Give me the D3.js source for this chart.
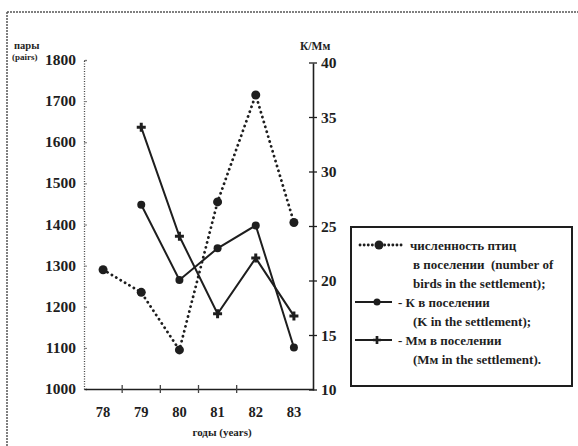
<!DOCTYPE html>
<html><head><meta charset="utf-8">
<script src="https://cdn.jsdelivr.net/npm/d3@7"></script>
<style>body{margin:0;background:#fff}svg{display:block}</style>
</head><body>
<script>
const years = [78, 79, 80, 81, 82, 83];
const birds = [1290, 1235, 1095, 1455, 1715, 1405];
const kYears = [79, 80, 81, 82, 83];
const kValues = [27.0, 20.1, 23.0, 25.1, 13.9];
const mmYears = [79, 80, 81, 82, 83];
const mmValues = [34.1, 24.1, 17.0, 22.1, 16.8];
const leftTicks = [1000, 1100, 1200, 1300, 1400, 1500, 1600, 1700, 1800];
const rightTicks = [10, 15, 20, 25, 30, 35, 40];
const xTicks = [78.5, 79.5, 80.5, 81.5];
const legendLines = [
  ["численность птиц", "в поселении  (number of", "birds in the settlement);"],
  ["- К в поселении", "(K in the settlement);"],
  ["- Мм в поселении", "(Мм in the settlement)."]
];

const W = 578, H = 446, ink = "#1e1e1e";
const FONT = "'Liberation Serif', 'Times New Roman', 'DejaVu Serif', serif";
const svg = d3.select("body").append("svg").attr("width", W).attr("height", H)
  .attr("font-family", FONT).attr("fill", ink);

// scan frame (dotted top/left)
svg.append("line").attr("x1", 7).attr("x2", W).attr("y1", 12).attr("y2", 12)
  .attr("stroke", "#555").attr("stroke-width", 1.5).attr("stroke-dasharray", "2,1");
svg.append("line").attr("x1", 7).attr("x2", 7).attr("y1", 12).attr("y2", H)
  .attr("stroke", "#555").attr("stroke-width", 1.5).attr("stroke-dasharray", "2,1");

const x = d3.scaleLinear().domain([77.5, 83.5]).range([84, 313]);
const yL = d3.scaleLinear().domain([1000, 1800]).range([389, 60]);
const yR = d3.scaleLinear().domain([10, 40]).range([390, 63]);

function txt(sel) {
  return sel.style("font-family", FONT).attr("fill", ink).attr("font-weight", "bold");
}

// left axis (dotted)
const gL = svg.append("g").attr("transform", "translate(84,0)");
gL.call(d3.axisRight(yL).tickValues(leftTicks).tickSize(3).tickFormat(""));
gL.select(".domain").attr("stroke", "#444").attr("stroke-width", 1.3).attr("stroke-dasharray", "1,1.5");
gL.selectAll(".tick line").attr("stroke", "#777");
txt(svg.selectAll(".ltl").data(leftTicks).join("text")
  .attr("x", 76).attr("y", d => yL(d) + 5).attr("text-anchor", "end")
  .attr("font-size", 15.5).text(d => d));
txt(svg.append("text").attr("x", 14).attr("y", 49).attr("font-size", 10.5).text("пары"));
txt(svg.append("text").attr("x", 12).attr("y", 60).attr("font-size", 9).text("(pairs)"));

// right axis
const gR = svg.append("g").attr("transform", "translate(313,0)");
gR.call(d3.axisRight(yR).tickValues(rightTicks).tickSize(0).tickFormat(""));
gR.select(".domain").attr("stroke", ink).attr("stroke-width", 1.6);
gR.selectAll(".rt").data(rightTicks).join("line")
  .attr("x1", -4).attr("x2", 4).attr("y1", d => yR(d)).attr("y2", d => yR(d))
  .attr("stroke", ink).attr("stroke-width", 1.3);
txt(svg.selectAll(".rtl").data(rightTicks).join("text")
  .attr("x", 321).attr("y", d => yR(d) + 5).attr("font-size", 15.5).text(d => d));
txt(svg.append("text").attr("x", 300).attr("y", 50).attr("font-size", 11.5).text("К/Мм"));

// bottom axis
const gB = svg.append("g").attr("transform", "translate(0,389)");
gB.call(d3.axisBottom(x).tickValues(xTicks).tickSize(0).tickFormat(""));
gB.select(".domain").attr("stroke", ink).attr("stroke-width", 1.6);
gB.selectAll(".bt").data(xTicks).join("line")
  .attr("x1", d => x(d)).attr("x2", d => x(d)).attr("y1", -4).attr("y2", 4)
  .attr("stroke", "#444").attr("stroke-width", 1.3);
txt(svg.selectAll(".btl").data(years).join("text")
  .attr("x", d => x(d)).attr("y", 417).attr("text-anchor", "middle")
  .attr("font-size", 14.5).text(d => d));
txt(svg.append("text").attr("x", 222).attr("y", 436).attr("text-anchor", "middle")
  .attr("font-size", 11).text("годы (years)"));

// series
const lineB = d3.line().x((d, i) => x(years[i])).y(d => yL(d));
svg.append("path").attr("d", lineB(birds)).attr("fill", "none").attr("stroke", ink)
  .attr("stroke-width", 2.8).attr("stroke-dasharray", "0.1,5").attr("stroke-linecap", "round");
svg.selectAll(".bp").data(birds).join("circle")
  .attr("cx", (d, i) => x(years[i])).attr("cy", d => yL(d)).attr("r", 4.5).attr("fill", ink);

const lineK = d3.line().x((d, i) => x(kYears[i])).y(d => yR(d));
svg.append("path").attr("d", lineK(kValues)).attr("fill", "none").attr("stroke", ink).attr("stroke-width", 2);
svg.selectAll(".kp").data(kValues).join("circle")
  .attr("cx", (d, i) => x(kYears[i])).attr("cy", d => yR(d)).attr("r", 4).attr("fill", ink);

const lineM = d3.line().x((d, i) => x(mmYears[i])).y(d => yR(d));
svg.append("path").attr("d", lineM(mmValues)).attr("fill", "none").attr("stroke", ink).attr("stroke-width", 2);
const plus = d3.symbol().type(d3.symbolCross).size(45);
svg.selectAll(".mp").data(mmValues).join("path")
  .attr("transform", (d, i) => `translate(${x(mmYears[i])},${yR(d)})`)
  .attr("d", plus).attr("fill", ink);

// legend
const lg = svg.append("g");
lg.append("rect").attr("x", 351).attr("y", 227).attr("width", 221).attr("height", 159)
  .attr("fill", "none").attr("stroke", ink).attr("stroke-width", 2);
const rowY = [245, 264, 283, 302, 321, 340, 359];
lg.append("line").attr("x1", 360).attr("x2", 405).attr("y1", rowY[0]).attr("y2", rowY[0])
  .attr("stroke", ink).attr("stroke-width", 2.8).attr("stroke-dasharray", "0.1,4").attr("stroke-linecap", "round");
lg.append("circle").attr("cx", 379).attr("cy", rowY[0]).attr("r", 4.5).attr("fill", ink);
lg.append("line").attr("x1", 355).attr("x2", 392).attr("y1", rowY[3]).attr("y2", rowY[3]).attr("stroke", ink).attr("stroke-width", 2);
lg.append("circle").attr("cx", 377).attr("cy", rowY[3]).attr("r", 3.5).attr("fill", ink);
lg.append("line").attr("x1", 355).attr("x2", 392).attr("y1", rowY[5]).attr("y2", rowY[5]).attr("stroke", ink).attr("stroke-width", 2);
lg.append("path").attr("transform", `translate(377,${rowY[5]})`).attr("d", d3.symbol().type(d3.symbolCross).size(36)).attr("fill", ink);
const texts = [
  [410, legendLines[0][0]], [413, legendLines[0][1]], [413, legendLines[0][2]],
  [398, legendLines[1][0]], [413, legendLines[1][1]],
  [398, legendLines[2][0]], [413, legendLines[2][1]]
];
txt(lg.selectAll(".lt").data(texts).join("text")
  .attr("x", d => d[0]).attr("y", (d, i) => rowY[i] + 4.5)
  .attr("font-size", 13).style("white-space", "pre").text(d => d[1]));
</script>
</body></html>
